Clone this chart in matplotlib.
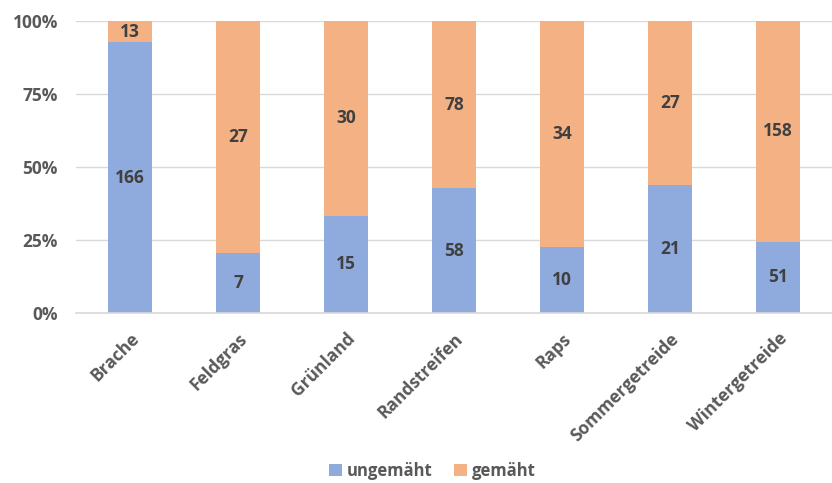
import numpy as np
import matplotlib.pyplot as plt
import matplotlib.ticker as mtick

categories = ["Brache", "Feldgras", "Grünland", "Randstreifen", "Raps",
              "Sommergetreide", "Wintergetreide"]
ungemaeht = [166, 7, 15, 58, 10, 21, 51]
gemaeht = [13, 27, 30, 78, 34, 27, 158]

plt.rcParams['font.family'] = ['Open Sans', 'DejaVu Sans']
plt.rcParams['font.weight'] = 'bold'

blue = '#8faadc'
orange = '#f4b183'
text_col = '#404040'
tick_col = '#595959'

u = np.array(ungemaeht, dtype=float)
g = np.array(gemaeht, dtype=float)
total = u + g
u_pct = u / total * 100
g_pct = g / total * 100

fig = plt.figure(figsize=(8.32, 4.83), dpi=100)
ax = fig.add_axes([0.0913, 0.352, 0.9087, 0.6045])

x = np.arange(len(categories))
w = 0.41
b1 = ax.bar(x, u_pct, w, color=blue, label='ungemäht', zorder=2)
b2 = ax.bar(x, g_pct, w, bottom=u_pct, color=orange, label='gemäht', zorder=2)

for i in range(len(categories)):
    ax.text(x[i], u_pct[i] / 2, str(ungemaeht[i]), ha='center', va='center',
            fontsize=12.5, fontweight='bold', color=text_col, zorder=3)
    ax.text(x[i], u_pct[i] + g_pct[i] / 2, str(gemaeht[i]), ha='center', va='center',
            fontsize=12.5, fontweight='bold', color=text_col, zorder=3)

ax.set_xlim(-0.5, len(categories) - 0.5)
ax.set_ylim(0, 100)
ax.set_yticks([0, 25, 50, 75, 100])
ax.yaxis.set_major_formatter(mtick.PercentFormatter(decimals=0))
ax.grid(axis='y', color='#d9d9d9', linewidth=1, zorder=0)
for s in ['top', 'right', 'left']:
    ax.spines[s].set_visible(False)
ax.spines['bottom'].set_color('#d9d9d9')
ax.spines['bottom'].set_linewidth(1.2)
ax.tick_params(axis='both', length=0, labelsize=12.5, labelcolor=tick_col)
ax.tick_params(axis='y', pad=13)
ax.set_xticks(x)
ax.set_xticklabels(categories, rotation=45, ha='right', rotation_mode='anchor')
ax.tick_params(axis='x', pad=12)

fig.legend(handles=[b1, b2], loc='lower center', bbox_to_anchor=(0.52, -0.025),
           ncol=2, frameon=False, fontsize=12, handlelength=0.75, handleheight=0.75,
           handletextpad=0.3, columnspacing=1.3, labelcolor=tick_col)

fig.savefig('out.png', dpi=100)
